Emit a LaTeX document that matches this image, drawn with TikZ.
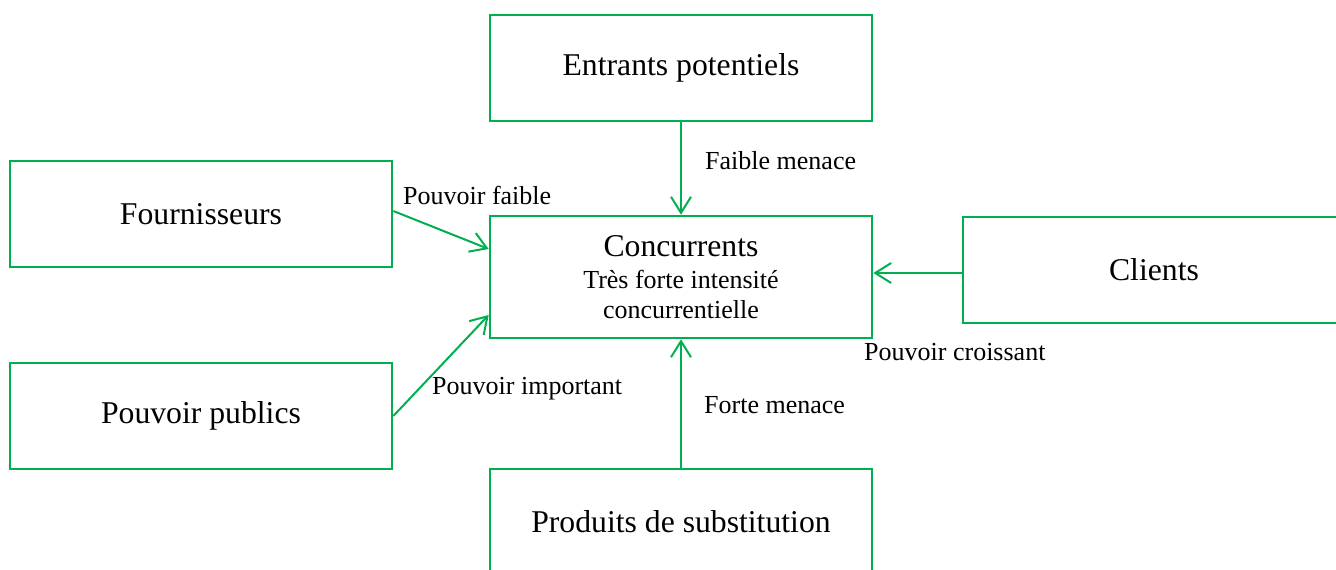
\documentclass[tikz,border=0pt]{standalone}
\usepackage{fontspec}
\setmainfont{Liberation Serif}
\usetikzlibrary{arrows.meta}
\definecolor{fgreen}{HTML}{00B050}
\begin{document}
\begin{tikzpicture}[x=1pt,y=-1pt,
  box/.style={draw=fgreen,line width=2.6pt,minimum width=382pt,minimum height=106pt,inner sep=0pt,
    font=\fontsize{31.7}{36}\selectfont,align=center},
  lbl/.style={inner sep=0pt,anchor=west,font=\fontsize{26}{30}\selectfont},
  arr/.style={draw=fgreen,line width=2pt,-{Straight Barb[length=16pt,width=20pt]}}]
\useasboundingbox (0,0) rectangle (1336,570);
\clip (0,0) rectangle (1336,570);
\node[box] (ent) at (681,68) {Entrants potentiels};
\node[box] (four) at (201,214) {Fournisseurs};
\node[box,minimum height=122pt] (conc) at (681,277) {Concurrents\\[-4pt]{\fontsize{26}{30}\selectfont Très forte intensité}\\[-6pt]{\fontsize{26}{30}\selectfont concurrentielle}};
\node[box] (cli) at (1154,270) {Clients};
\node[box] (pub) at (201,416) {Pouvoir publics};
\node[box] (prod) at (681,522) {Produits de substitution};
\draw[arr] (ent.south) -- (conc.north);
\draw[arr] ([yshift=3pt]four.east) -- ([yshift=28pt]conc.west);
\draw[arr] (pub.east) -- ([yshift=-38pt]conc.west);
\draw[arr] ([yshift=-3pt]cli.west) -- ([yshift=-3pt]cli.west -| conc.east);
\draw[arr] (prod.north) -- (conc.south);
\node[lbl] (l1) at (403,195) {Pouvoir faible};
\node[lbl] (l2) at (705,161) {Faible menace};
\node[lbl] (l3) at (432,389) {Pouvoir important};
\node[lbl] (l4) at (864,352) {Pouvoir croissant};
\node[lbl] (l5) at (704,405) {Forte menace};
\end{tikzpicture}
\end{document}
